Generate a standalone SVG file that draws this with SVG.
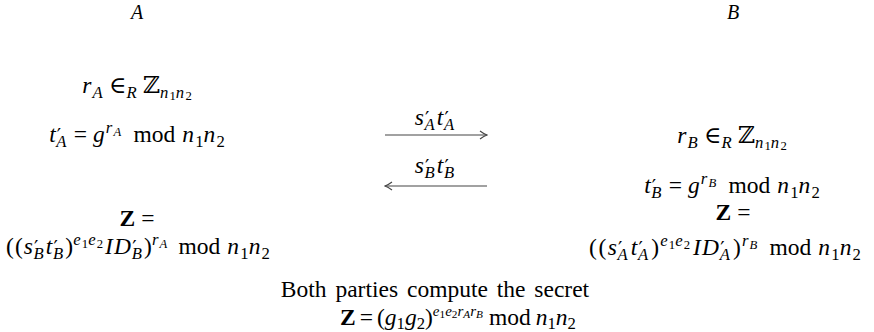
<svg xmlns="http://www.w3.org/2000/svg" width="874" height="332" viewBox="0 0 874 332">
<style>
.m{font-family:"Liberation Serif","DejaVu Serif",serif;font-size:23.5px;fill:#000}
.lbl{font-family:"Liberation Serif","DejaVu Serif",serif;font-size:20px;font-style:italic;fill:#000}
.i{font-style:italic;letter-spacing:1.2px}
.b{font-weight:bold}
.s{font-size:.71em}
.ss{font-size:.54em}
.e{font-size:.64em;letter-spacing:0}
.ee{font-size:.48em;letter-spacing:0}
.tight .i{letter-spacing:0}
.p{font-family:"DejaVu Serif",serif;font-size:.82em}
.arr{stroke:#444;stroke-width:1.1;fill:none}
</style>
<defs>
<marker id="head" viewBox="0 0 10 10" refX="9" refY="5" markerWidth="10" markerHeight="10" markerUnits="userSpaceOnUse" orient="auto-start-reverse">
<path d="M2,1 Q6,4 9,5 Q6,6 2,9" stroke="#444" stroke-width="1.1" fill="none"/>
</marker>
</defs>
<rect width="874" height="332" fill="#fff"/>
<g id="party-A">
<text class="lbl" x="137" y="19" text-anchor="middle">A</text>
<text class="m" x="137" y="93" text-anchor="middle"><tspan class="i">r</tspan><tspan class="i s" dy="5">A</tspan><tspan dy="-5" dx="5">∈</tspan><tspan class="i s" dy="5">R</tspan><tspan dy="-5" dx="5">ℤ</tspan><tspan class="i s" dy="5">n</tspan><tspan class="ss" dy="2">1</tspan><tspan class="i s" dy="-2">n</tspan><tspan class="ss" dy="2">2</tspan></text>
<text class="m" x="137" y="142" text-anchor="middle"><tspan class="i">t</tspan><tspan class="p">′</tspan><tspan class="i s" dx="-5" dy="5">A</tspan><tspan dy="-5" dx="6">=</tspan><tspan class="i" dx="6">g</tspan><tspan class="i s" dy="-9">r</tspan><tspan class="i ss" dy="3">A</tspan><tspan dy="6" dx="11">mod</tspan><tspan class="i" dx="7">n</tspan><tspan class="s" dy="5">1</tspan><tspan class="i" dy="-5">n</tspan><tspan class="s" dy="5">2</tspan></text>
<text class="m" x="137" y="226" text-anchor="middle"><tspan class="b">Z</tspan><tspan dx="6">=</tspan></text>
<text class="m" x="138" y="254" text-anchor="middle"><tspan letter-spacing="1">((</tspan><tspan class="i">s</tspan><tspan class="p">′</tspan><tspan class="i s" dx="-5" dy="5">B</tspan><tspan class="i" dy="-5" dx="1">t</tspan><tspan class="p">′</tspan><tspan class="i s" dx="-5" dy="5">B</tspan><tspan dy="-5" dx="1">)</tspan><tspan class="i s" dy="-9">e</tspan><tspan class="ss" dy="3">1</tspan><tspan class="i s" dy="-3">e</tspan><tspan class="ss" dy="3">2</tspan><tspan class="i" dy="6" dx="2">ID</tspan><tspan class="p">′</tspan><tspan class="i s" dx="-5" dy="5">B</tspan><tspan dy="-5" dx="1">)</tspan><tspan class="i s" dy="-9">r</tspan><tspan class="i ss" dy="3">A</tspan><tspan dy="6" dx="10">mod</tspan><tspan class="i" dx="7">n</tspan><tspan class="s" dy="5">1</tspan><tspan class="i" dy="-5">n</tspan><tspan class="s" dy="5">2</tspan></text>
</g>
<g id="party-B">
<text class="lbl" x="733" y="19" text-anchor="middle">B</text>
<text class="m" x="732" y="143" text-anchor="middle"><tspan class="i">r</tspan><tspan class="i s" dy="5">B</tspan><tspan dy="-5" dx="5">∈</tspan><tspan class="i s" dy="5">R</tspan><tspan dy="-5" dx="5">ℤ</tspan><tspan class="i s" dy="5">n</tspan><tspan class="ss" dy="2">1</tspan><tspan class="i s" dy="-2">n</tspan><tspan class="ss" dy="2">2</tspan></text>
<text class="m" x="732" y="193" text-anchor="middle"><tspan class="i">t</tspan><tspan class="p">′</tspan><tspan class="i s" dx="-5" dy="5">B</tspan><tspan dy="-5" dx="6">=</tspan><tspan class="i" dx="6">g</tspan><tspan class="i s" dy="-9">r</tspan><tspan class="i ss" dy="3">B</tspan><tspan dy="6" dx="11">mod</tspan><tspan class="i" dx="7">n</tspan><tspan class="s" dy="5">1</tspan><tspan class="i" dy="-5">n</tspan><tspan class="s" dy="5">2</tspan></text>
<text class="m" x="733" y="220" text-anchor="middle"><tspan class="b">Z</tspan><tspan dx="6">=</tspan></text>
<text class="m" x="725" y="255" text-anchor="middle"><tspan letter-spacing="1.5">((</tspan><tspan class="i">s</tspan><tspan class="p">′</tspan><tspan class="i s" dx="-5" dy="5">A</tspan><tspan class="i" dy="-5" dx="2">t</tspan><tspan class="p">′</tspan><tspan class="i s" dx="-5" dy="5">A</tspan><tspan dy="-5" dx="2">)</tspan><tspan class="i s" dy="-9" dx="1">e</tspan><tspan class="ss" dy="3">1</tspan><tspan class="i s" dy="-3">e</tspan><tspan class="ss" dy="3">2</tspan><tspan class="i" dy="6" dx="3">ID</tspan><tspan class="p">′</tspan><tspan class="i s" dx="-5" dy="5">A</tspan><tspan dy="-5" dx="2">)</tspan><tspan class="i s" dy="-9" dx="1">r</tspan><tspan class="i ss" dy="3">B</tspan><tspan dy="6" dx="11">mod</tspan><tspan class="i" dx="7">n</tspan><tspan class="s" dy="5">1</tspan><tspan class="i" dy="-5">n</tspan><tspan class="s" dy="5">2</tspan></text>
</g>
<g id="connectors">
<line class="arr" x1="385" y1="135" x2="487" y2="135" marker-end="url(#head)"/>
<text class="m" x="435" y="125" text-anchor="middle"><tspan class="i">s</tspan><tspan class="p">′</tspan><tspan class="i s" dx="-5" dy="5">A</tspan><tspan class="i" dy="-5" dx="1">t</tspan><tspan class="p">′</tspan><tspan class="i s" dx="-5" dy="5">A</tspan></text>
<line class="arr" x1="385" y1="186" x2="487" y2="186" marker-start="url(#head)"/>
<text class="m" x="435" y="173" text-anchor="middle"><tspan class="i">s</tspan><tspan class="p">′</tspan><tspan class="i s" dx="-5" dy="5">B</tspan><tspan class="i" dy="-5" dx="1">t</tspan><tspan class="p">′</tspan><tspan class="i s" dx="-5" dy="5">B</tspan></text>
</g>
<g id="result">
<text class="m" x="435" y="297" text-anchor="middle" word-spacing="3">Both parties compute the secret</text>
<text class="m tight" x="458" y="325" text-anchor="middle"><tspan class="b">Z</tspan><tspan dx="4">=</tspan><tspan dx="4">(</tspan><tspan class="i">g</tspan><tspan class="s" dy="4">1</tspan><tspan class="i" dy="-4">g</tspan><tspan class="s" dy="4">2</tspan><tspan dy="-4">)</tspan><tspan class="i e" dy="-9">e</tspan><tspan class="ee" dy="2">1</tspan><tspan class="i e" dy="-2">e</tspan><tspan class="ee" dy="2">2</tspan><tspan class="i e" dy="-2">r</tspan><tspan class="i ee" dy="2">A</tspan><tspan class="i e" dy="-2">r</tspan><tspan class="i ee" dy="2">B</tspan><tspan dy="7" dx="6">mod</tspan><tspan class="i" dx="5">n</tspan><tspan class="s" dy="4">1</tspan><tspan class="i" dy="-4">n</tspan><tspan class="s" dy="4">2</tspan></text>
</g>
</svg>
